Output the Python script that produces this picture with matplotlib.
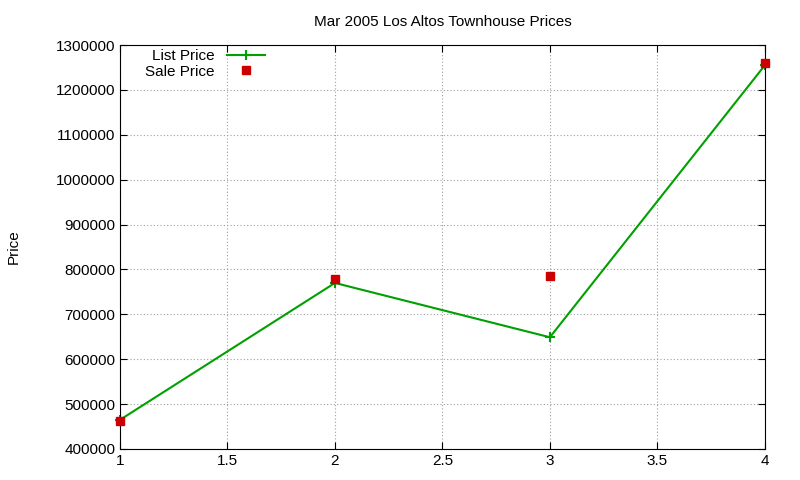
import matplotlib
matplotlib.use("Agg")
import matplotlib.pyplot as plt

plt.rcParams['font.family'] = ['Liberation Sans', 'DejaVu Sans']

x = [1, 2, 3, 4]
list_price = [465000, 770000, 649000, 1255000]
sale_price = [462000, 779000, 785000, 1260000]

fig = plt.figure(figsize=(8, 4.8), dpi=100)
ax = fig.add_axes([0.15, 0.0646, 0.806, 0.8414])
ax.plot(x, list_price, color='#00a000', lw=1.5, marker='+', ms=7, mew=1.5, label='List Price', clip_on=False)
ax.plot(x, sale_price, ls='none', marker='s', ms=6, color='#cc0000', label='Sale Price', clip_on=False, zorder=3)
ax.set_xlim(1, 4)
ax.set_ylim(400000, 1300000)
ax.set_xticks([1, 1.5, 2, 2.5, 3, 3.5, 4])
ax.set_xticklabels(['1', '1.5', '2', '2.5', '3', '3.5', '4'])
ax.set_yticks(range(400000, 1300001, 100000))
ax.set_yticklabels([str(v) for v in range(400000, 1300001, 100000)])
ax.tick_params(direction='in', top=True, right=True, labelsize=11, length=5)
ax.grid(True, color='#a0a0a0', ls=(0, (1, 2)), lw=0.8)
ax.set_title('Mar 2005 Los Altos Townhouse Prices', fontsize=11, pad=14)
ax.set_ylabel('Price', fontsize=11, labelpad=25)
leg = ax.legend(loc='upper left', frameon=False, markerfirst=False, fontsize=11,
                borderaxespad=0.0, handlelength=2.5, bbox_to_anchor=(0.03, 1.005), labelspacing=0.1)
for t in leg.get_texts():
    t.set_ha('right')
fig.savefig('out.png', dpi=100)
